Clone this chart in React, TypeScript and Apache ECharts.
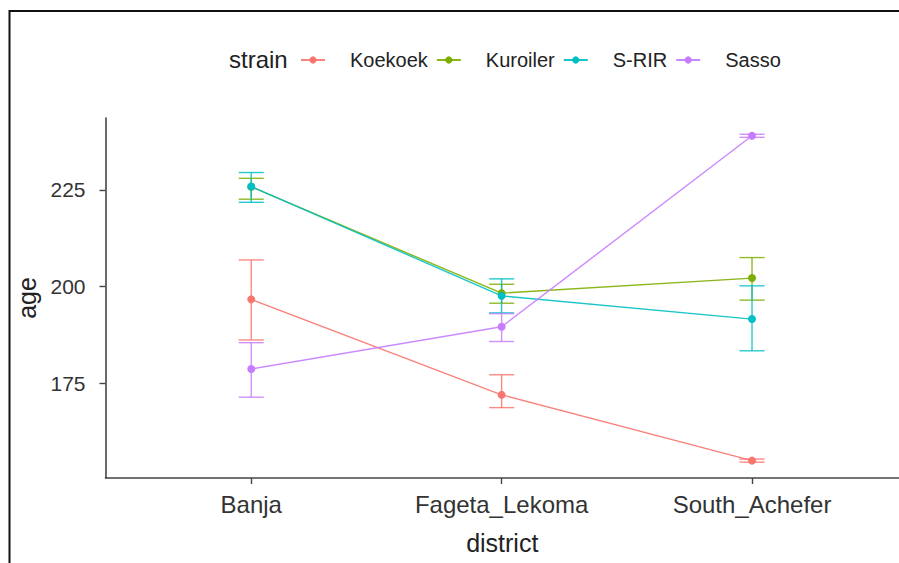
import React, { useEffect, useRef } from "react";
import * as echarts from "echarts";

const districts = ["Banja", "Fageta_Lekoma", "South_Achefer"];
const strains = ["Koekoek", "Kuroiler", "S-RIR", "Sasso"];
const colors = ["#F8766D", "#7CAE00", "#00BFC4", "#C77CFF"];

const koekoekMean = [196.7, 172.0, 155.0];
const koekoekLow = [186.2, 168.7, 154.6];
const koekoekHigh = [206.9, 177.2, 155.4];

const kuroilerMean = [225.8, 198.3, 202.2];
const kuroilerLow = [222.6, 195.7, 196.5];
const kuroilerHigh = [228.0, 200.6, 207.5];

const srirMean = [225.9, 197.6, 191.6];
const srirLow = [221.8, 193.2, 183.4];
const srirHigh = [229.5, 202.0, 200.2];

const sassoMean = [178.7, 189.6, 239.0];
const sassoLow = [171.4, 185.8, 238.6];
const sassoHigh = [185.5, 193.0, 239.4];

const yTicks = [175, 200, 225];

const means = [koekoekMean, kuroilerMean, srirMean, sassoMean];
const lows = [koekoekLow, kuroilerLow, srirLow, sassoLow];
const highs = [koekoekHigh, kuroilerHigh, srirHigh, sassoHigh];

const FONT = "'Liberation Sans', Arial, sans-serif";

export default function App() {
  const ref = useRef<HTMLDivElement>(null);
  useEffect(() => {
    if (!ref.current) return;
    const chart = echarts.init(ref.current, undefined, { renderer: "svg" });
    const series: any[] = [];
    strains.forEach((s, i) => {
      series.push({
        name: s + "_err",
        type: "custom",
        data: districts.map((_, j) => [j, lows[i][j], highs[i][j]]),
        encode: { x: 0, y: [1, 2] },
        z: 2 + i,
        silent: true,
        renderItem: (params: any, api: any) => {
          const x = api.value(0);
          const lo = api.value(1);
          const hi = api.value(2);
          const top = api.coord([x, hi]);
          const bot = api.coord([x, lo]);
          const half = api.size([0.05, 0])[0];
          const st = { stroke: colors[i], lineWidth: 1.4, opacity: 0.85 };
          return {
            type: "group",
            children: [
              { type: "line", shape: { x1: top[0], y1: top[1], x2: bot[0], y2: bot[1] }, style: st },
              { type: "line", shape: { x1: top[0] - half, y1: top[1], x2: top[0] + half, y2: top[1] }, style: st },
              { type: "line", shape: { x1: bot[0] - half, y1: bot[1], x2: bot[0] + half, y2: bot[1] }, style: st },
            ],
          };
        },
      });
      series.push({
        name: s,
        type: "line",
        data: districts.map((_, j) => [j, means[i][j]]),
        symbol: "circle",
        symbolSize: 8,
        z: 3 + i,
        itemStyle: { color: colors[i] },
        lineStyle: { color: colors[i], width: 1.4, opacity: 0.9 },
        emphasis: { disabled: true },
      });
    });

    chart.setOption({
      animation: false,
      backgroundColor: "#ffffff",
      textStyle: { fontFamily: FONT },
      grid: { left: 105.5, right: 0, top: 118, bottom: 85, containLabel: false },
      legend: {
        data: strains,
        left: 300,
        top: 47,
        padding: 0,
        itemWidth: 24,
        itemHeight: 9,
        itemGap: 8,
        selectedMode: false,
        textStyle: { fontFamily: FONT, fontSize: 20, color: "#222", padding: [0, 0, 0, 20], lineHeight: 26 },
      },
      graphic: [
        {
          type: "text",
          left: 229,
          top: 47,
          style: { text: "strain", font: `24px ${FONT}`, fill: "#222" },
        },
        {
          type: "rect",
          shape: { x: 9.5, y: 11, width: 1000, height: 1000 },
          style: { fill: "none", stroke: "#111", lineWidth: 2 },
          silent: true,
        },
      ],
      xAxis: {
        type: "value",
        min: -0.582,
        max: 2.587,
        name: "district",
        nameLocation: "middle",
        nameGap: 52,
        nameTextStyle: { fontFamily: FONT, fontSize: 25, color: "#222" },
        axisLine: { show: true, onZero: false, lineStyle: { color: "#444", width: 1.6 } },
        axisTick: { show: true, customValues: [0, 1, 2], length: 6, lineStyle: { color: "#444", width: 1.4 } },
        axisLabel: {
          customValues: [0, 1, 2],
          formatter: (v: number) => districts[Math.round(v)] ?? "",
          fontFamily: FONT,
          fontSize: 24,
          color: "#333",
          margin: 14,
        },
        splitLine: { show: false },
      },
      yAxis: {
        type: "value",
        min: 150.5,
        max: 243.6,
        name: "age",
        nameLocation: "middle",
        nameGap: 60,
        nameTextStyle: { fontFamily: FONT, fontSize: 25, color: "#222" },
        axisLine: { show: true, onZero: false, lineStyle: { color: "#444", width: 1.6 } },
        axisTick: { show: true, customValues: yTicks, length: 6, lineStyle: { color: "#444", width: 1.4 } },
        axisLabel: {
          customValues: yTicks,
          fontFamily: FONT,
          fontSize: 21,
          color: "#333",
          margin: 20,
        },
        splitLine: { show: false },
      },
      series,
    });
    return () => chart.dispose();
  }, []);
  return (
    <div
      ref={ref}
      style={{ position: "absolute", left: 0, top: 0, width: 899, height: 563, background: "#fff" }}
    />
  );
}
